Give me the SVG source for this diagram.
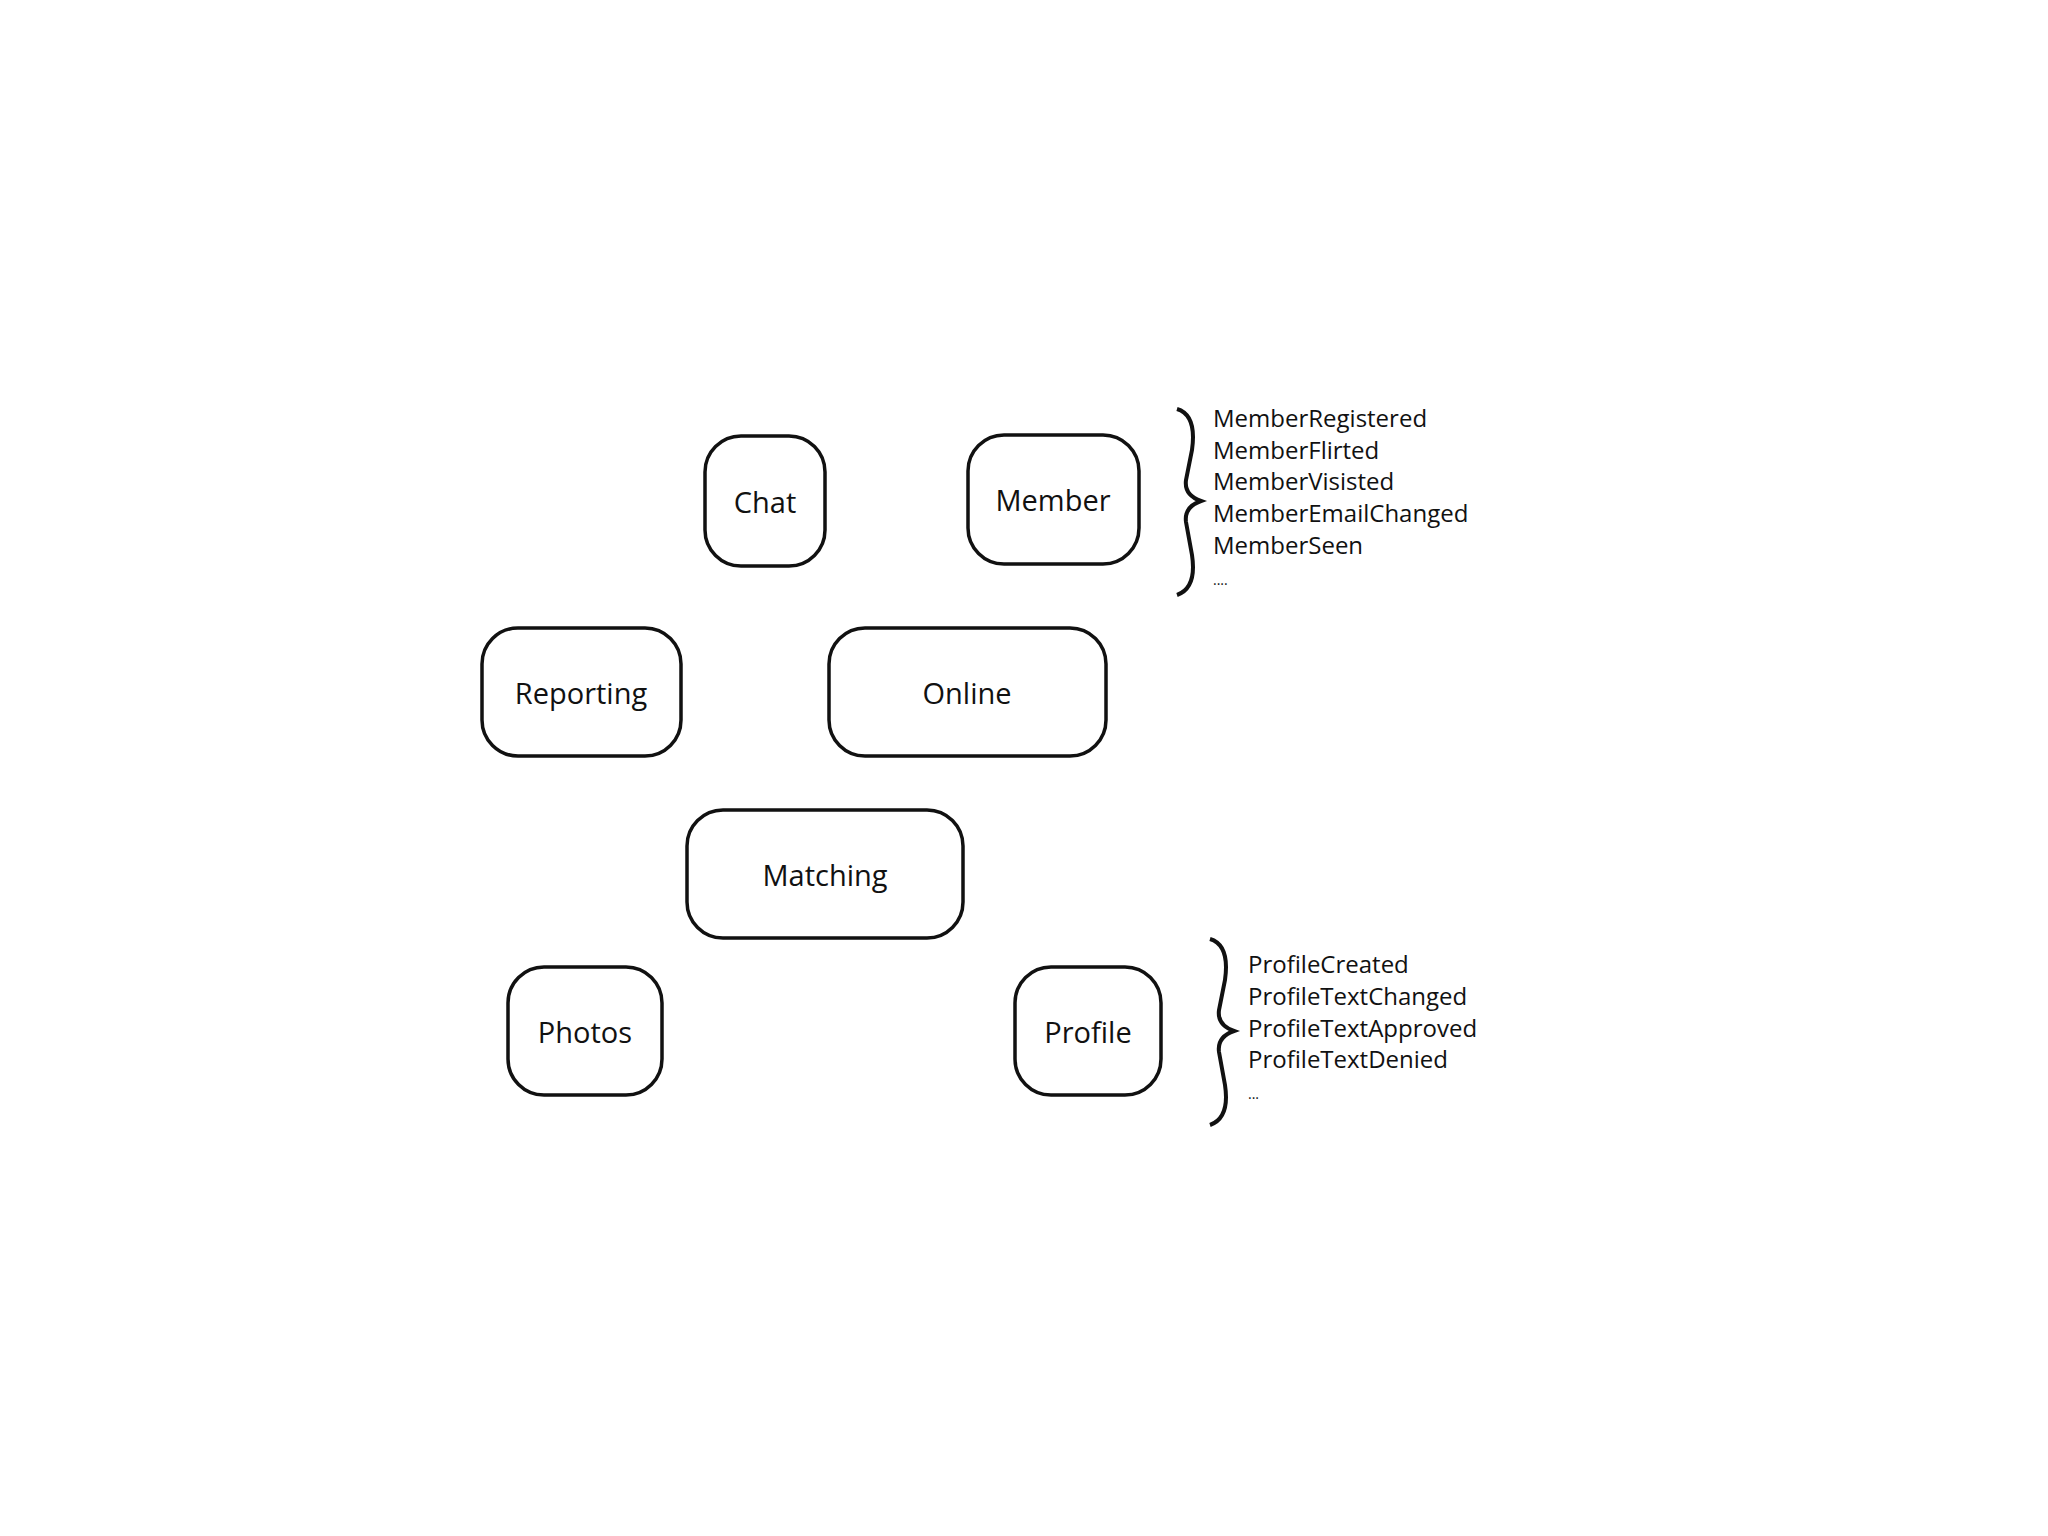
<svg xmlns="http://www.w3.org/2000/svg" width="2048" height="1536" viewBox="0 0 2048 1536">
<style>
.n{fill:#fff;stroke:#111;stroke-width:3.5}
.l{font-family:"Open Sans",sans-serif;font-size:29px;fill:#111;text-anchor:middle;dominant-baseline:central}
.e{font-family:"Open Sans",sans-serif;font-size:24px;fill:#111}
.b{fill:none;stroke:#111;stroke-width:4}
</style>
<rect width="2048" height="1536" fill="#fff"/>
<g transform="translate(-9,-10)">
<g id="chat"><rect class="n" x="714" y="446" width="120" height="130" rx="36"/><text class="l" x="774" y="511">Chat</text></g>
<g id="member"><rect class="n" x="977" y="445" width="171" height="129" rx="36"/><text class="l" x="1062" y="509">Member</text></g>
<g id="reporting"><rect class="n" x="491" y="638" width="199" height="128" rx="36"/><text class="l" x="590" y="702">Reporting</text></g>
<g id="online"><rect class="n" x="838" y="638" width="277" height="128" rx="36"/><text class="l" x="976" y="702">Online</text></g>
<g id="matching"><rect class="n" x="696" y="820" width="276" height="128" rx="36"/><text class="l" x="834" y="884">Matching</text></g>
<g id="photos"><rect class="n" x="517" y="977" width="154" height="128" rx="36"/><text class="l" x="594" y="1041">Photos</text></g>
<g id="profile"><rect class="n" x="1024" y="977" width="146" height="128" rx="36"/><text class="l" x="1097" y="1041">Profile</text></g>
<g id="member-events">
<path class="b" d="M1186 419 Q1206 425 1201 460 L1195 490 Q1193 505 1210 511 Q1193 517 1195 532 L1201 565 Q1206 598 1186 605"/>
<text class="e" x="1222" y="437">MemberRegistered</text>
<text class="e" x="1222" y="469">MemberFlirted</text>
<text class="e" x="1222" y="500">MemberVisisted</text>
<text class="e" x="1222" y="532">MemberEmailChanged</text>
<text class="e" x="1222" y="564">MemberSeen</text>
<text class="e" x="1222" y="595" style="font-size:14px">....</text>
</g>
<g id="profile-events">
<path class="b" d="M1219 949 Q1239 955 1234 990 L1228 1020 Q1226 1035 1243 1041 Q1226 1047 1228 1062 L1234 1095 Q1239 1128 1219 1135"/>
<text class="e" x="1257" y="983">ProfileCreated</text>
<text class="e" x="1257" y="1015">ProfileTextChanged</text>
<text class="e" x="1257" y="1047">ProfileTextApproved</text>
<text class="e" x="1257" y="1078">ProfileTextDenied</text>
<text class="e" x="1257" y="1109" style="font-size:14px">...</text>
</g>
</g>
<g id="connectors"/>
</svg>
